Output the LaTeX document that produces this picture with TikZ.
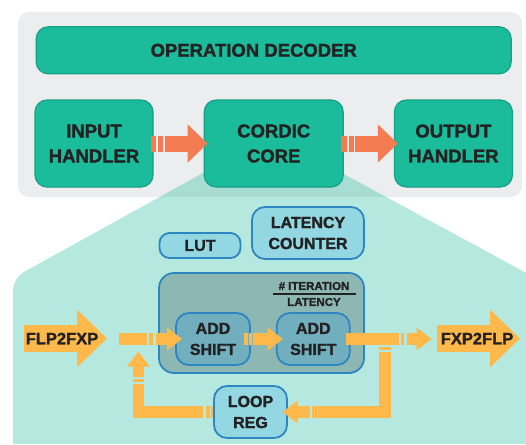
\documentclass[tikz,border=0pt]{standalone}
\usepackage{fontspec}
\setmainfont{Liberation Sans}[BoldFeatures={FakeBold=1.6}]
\usetikzlibrary{positioning,arrows.meta,calc}
\definecolor{PanelGray}{HTML}{ECEDEF}
\definecolor{BlockTeal}{HTML}{1ABC9C}
\definecolor{BlockEdge}{HTML}{16A085}
\definecolor{HopCoral}{HTML}{F47B52}
\definecolor{UnitBlue}{HTML}{93D7E3}
\definecolor{UnitEdge}{HTML}{2E86C1}
\definecolor{IterFill}{HTML}{8DB7B3}
\definecolor{StageFill}{HTML}{71AFBF}
\definecolor{FlowGold}{HTML}{FFB94B}
\definecolor{DarkText}{HTML}{222222}

\begin{document}
\begin{tikzpicture}[x=1pt, y=-1pt,
    block/.style={rectangle, rounded corners=12pt, draw=BlockEdge, line width=1.2pt, fill=BlockTeal,
        text=DarkText, font=\fontsize{18.5}{25}\selectfont\bfseries, align=center, inner sep=0pt},
    unit/.style={rectangle, rounded corners=10pt, draw=UnitEdge, line width=1.8pt, fill=UnitBlue,
        text=DarkText, font=\fontsize{16}{21}\selectfont\bfseries, align=center, inner sep=0pt},
    stage/.style={unit, fill=StageFill, rounded corners=13pt},
    ratio/.style={text=DarkText, font=\fontsize{11.5}{14}\selectfont\bfseries, inner sep=0pt},
    iotext/.style={text=DarkText, font=\fontsize{16.5}{20}\selectfont\bfseries, inner sep=0pt},
    hop/.style={line width=16pt, HopCoral, -{Triangle[length=20pt,width=37pt]}},
    flow/.style={line width=11.3pt, FlowGold, -{Triangle[length=15pt,width=22pt]}},
    bigarrow/.style={line width=27pt, FlowGold, -{Triangle[length=30pt,width=56pt]}},
]
\useasboundingbox (0,0) rectangle (526,444);

% top level
\fill[PanelGray, rounded corners=11pt] (18,12) rectangle (522,197);
\fill[BlockTeal, fill opacity=0.32] (13,444) [rounded corners=12pt] -- (13,278) [sharp corners]
    -- (203,173) -- (342,173) -- (530,275) -- (530,444) -- cycle;

\node[block, minimum width=118pt, minimum height=87pt] (inp) at (94,143.5) {INPUT\\HANDLER};
\node[block, minimum width=139pt, minimum height=87pt, right=50pt of inp] (core) {CORDIC\\CORE};
\node[block, minimum width=118pt, minimum height=87pt, right=50pt of core] (out) {OUTPUT\\HANDLER};
\node[block, minimum width=475pt, minimum height=47pt, above=25pt of core] (dec) {\hspace*{-40pt}OPERATION DECODER};

\draw[hop, dash pattern=on 5.7pt off 2pt on 5pt off 1.6pt on 200pt, shorten <=-3pt, shorten >=-4pt] (inp) -- (core);
\draw[hop, dash pattern=on 5.7pt off 2pt on 5pt off 1.6pt on 200pt, shorten <=-3pt, shorten >=-4pt] (core) -- (out);

% inside the core
\node[unit, minimum width=81pt, minimum height=25pt] (lut) at (200,245.5) {LUT};
\node[unit, minimum width=112pt, minimum height=52pt, rounded corners=13pt] (cnt) at (308,233) {LATENCY\\COUNTER};
\node[unit, fill=IterFill, minimum width=205pt, minimum height=100pt, rounded corners=15pt] (iter) at (261.5,323) {};
\node[ratio] (itnum) at (314,286) {\# ITERATION};
\node[ratio] (itden) at (314,302) {LATENCY};
\draw[DarkText, line width=1.8pt] (273,294) -- (356,294);

\node[stage, minimum width=74pt, minimum height=52pt] (add1) at (213,339) {ADD\\SHIFT};
\node[stage, minimum width=73pt, minimum height=52pt, right=25pt of add1] (add2) {ADD\\SHIFT};
\node[unit, minimum width=73pt, minimum height=52pt, rounded corners=13pt] (loop) at (250.5,412) {LOOP\\REG};

\coordinate (feed) at (119,339);
\coordinate (drain) at (431.7,339);
\coordinate (tap) at (385,346.7);
\coordinate (join) at (138.3,351.7);

\draw[flow, dash pattern=on 27.7pt off 2.6pt on 4pt off 2.4pt on 200pt, shorten >=-7pt] (feed) -- (add1);
\draw[flow, dash pattern=on 4pt off 1.3pt on 2.7pt off 1.3pt on 200pt, shorten <=-7pt, shorten >=-7pt] (add1) -- (add2);
\draw[flow, dash pattern=on 53.4pt off 1.6pt on 3.4pt off 2.6pt on 200pt, shorten <=-5pt] (add2) -- (drain);
\draw[flow, dash pattern=on 3pt off 2pt on 127pt off 1.7pt on 5pt off 1.7pt on 200pt, shorten >=-5.3pt] (tap) |- (loop);
\draw[flow, dash pattern=on 2pt off 1.6pt on 4pt off 2.7pt on 92.4pt off 1.7pt on 3.3pt off 1.7pt on 200pt] (loop) -| (join);

% converters
\draw[bigarrow] (24,338.5) -- (107,338.5);
\node[iotext] (flp) at (62,338.5) {FLP2FXP};
\draw[bigarrow] (437,338.5) -- (520,338.5);
\node[iotext] (fxp) at (477,338.5) {FXP2FLP};
\end{tikzpicture}
\end{document}
